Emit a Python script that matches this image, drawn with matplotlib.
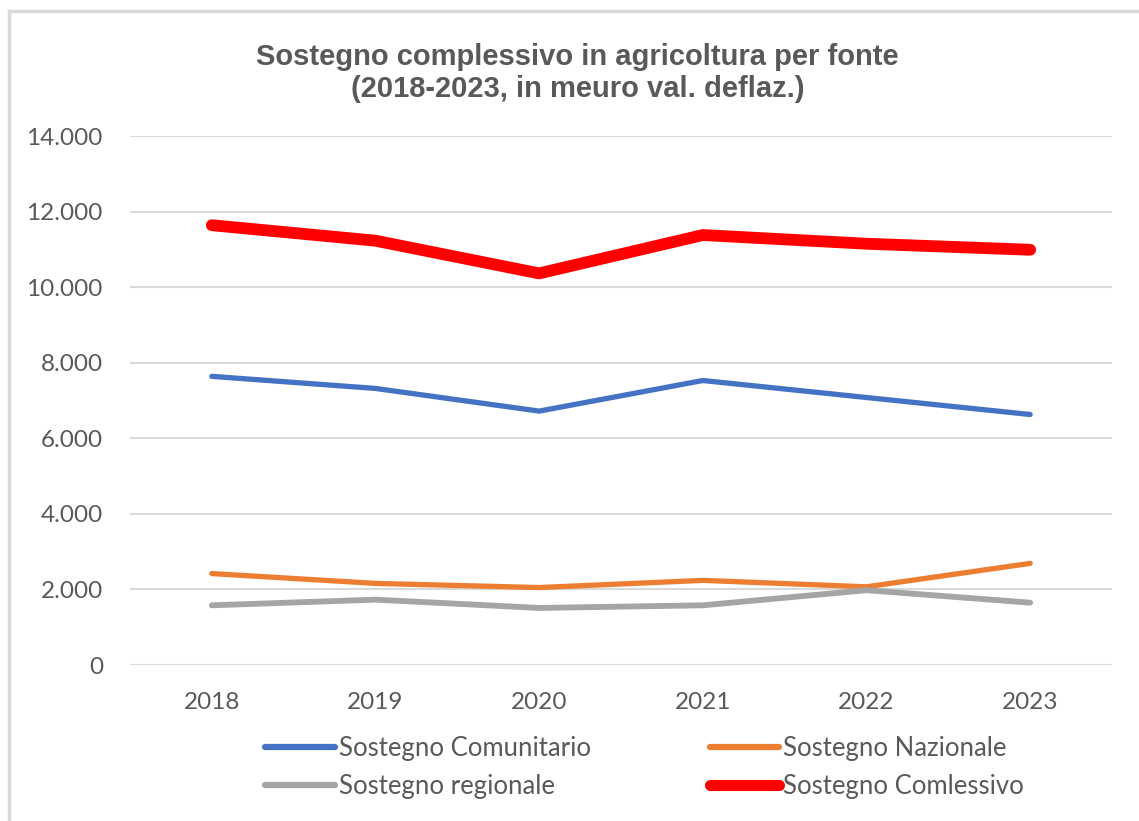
import matplotlib
matplotlib.use("Agg")
import matplotlib.pyplot as plt
from matplotlib.ticker import FuncFormatter, MultipleLocator
from matplotlib.patches import Rectangle

years = ["2018", "2019", "2020", "2021", "2022", "2023"]
comunitario = [7640, 7320, 6720, 7530, 7080, 6630]
nazionale = [2420, 2160, 2050, 2240, 2070, 2690]
regionale = [1580, 1730, 1510, 1580, 1980, 1650]
complessivo = [11640, 11230, 10365, 11380, 11150, 10990]

TXT = "#595959"
GRID = "#D9D9D9"

fig = plt.figure(figsize=(11.39, 8.21), dpi=100)
ax = fig.add_axes([0.1141, 0.19, 0.8622, 0.6443])

# chart frame (top and left edges visible in the screenshot)
fig.patches.append(Rectangle((9 / 1139, -0.05), 1.1, 1 - 11 / 821 + 0.05,
                             transform=fig.transFigure, fill=False,
                             edgecolor=GRID, linewidth=2.5))

x = range(len(years))
l_com, = ax.plot(x, comunitario, color="#4472C4", lw=3.8, solid_capstyle="round",
                 label="Sostegno Comunitario")
l_naz, = ax.plot(x, nazionale, color="#ED7D31", lw=3.8, solid_capstyle="round",
                 label="Sostegno Nazionale")
l_reg, = ax.plot(x, regionale, color="#A5A5A5", lw=4.2, solid_capstyle="round",
                 label="Sostegno regionale")
l_tot, = ax.plot(x, complessivo, color="#FF0000", lw=8.5, solid_capstyle="round",
                 label="Sostegno Comlessivo")

ax.set_xlim(-0.5, len(years) - 0.5)
ax.set_ylim(0, 14000)
ax.yaxis.set_major_locator(MultipleLocator(2000))
ax.yaxis.set_major_formatter(FuncFormatter(lambda v, p: f"{int(v):,}".replace(",", ".")))
ax.set_xticks(list(x))
ax.set_xticklabels(years)
ax.grid(axis="y", color=GRID, linewidth=1.5)
ax.set_axisbelow(True)
for s in ax.spines.values():
    s.set_visible(False)
ax.tick_params(length=0, labelsize=17.5, labelcolor=TXT)
ax.tick_params(axis="x", pad=19.5)
ax.tick_params(axis="y", pad=19.5)
for lab in ax.get_xticklabels() + ax.get_yticklabels():
    lab.set_family("Lato")

fig.text(0.507, 0.911, "Sostegno complessivo in agricoltura per fonte\n(2018-2023, in meuro val. deflaz.)",
         ha="center", va="center", fontsize=21, fontweight="bold", color=TXT,
         family="Liberation Sans", linespacing=1.2)

# Excel fills legend row by row; matplotlib fills by column
handles = [l_com, l_reg, l_naz, l_tot]
leg = fig.legend(handles, [h.get_label() for h in handles],
                 loc="center", bbox_to_anchor=(0.566, 0.065), ncol=2, frameon=False,
                 prop={"family": "Lato", "size": 18.5}, handlelength=2.7,
                 handletextpad=0.15, columnspacing=4.65, labelspacing=0.5)
for t in leg.get_texts():
    t.set_color(TXT)
for h in leg.get_lines():
    h.set_linewidth(4.5)
leg.get_lines()[3].set_linewidth(8)

fig.savefig("out.png", dpi=100, facecolor="white")
